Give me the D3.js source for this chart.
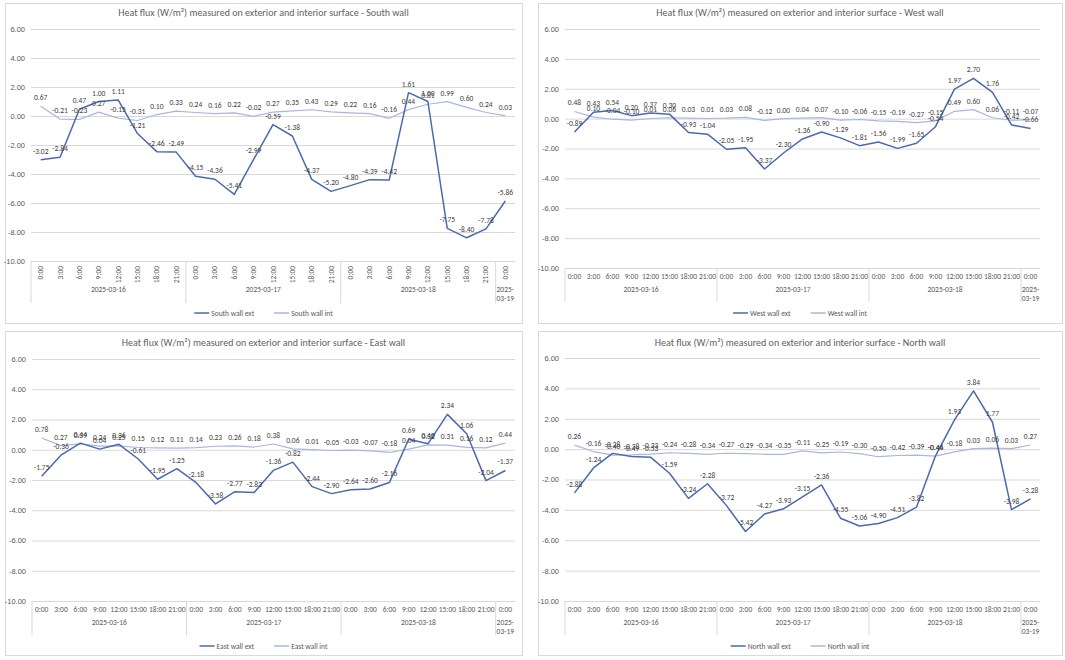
<!DOCTYPE html>
<html>
<head>
<meta charset="utf-8">
<script src="https://cdn.jsdelivr.net/npm/d3@7"></script>
<style>
  body { margin: 0; background: #fff; }
  svg { font-family: Calibri, Carlito, 'Liberation Sans', sans-serif; }
</style>
</head>
<body>
<svg id="chart" width="1065" height="660"></svg>
<script>
var hours = ['0:00', '3:00', '6:00', '9:00', '12:00', '15:00', '18:00', '21:00'];
var dates = ['2025-03-16', '2025-03-17', '2025-03-18', '2025-03-19'];
var yTicks = [-10, -8, -6, -4, -2, 0, 2, 4, 6];

var southExt = [-3.02, -2.84, 0.47, 1.00, 1.11, -1.21, -2.46, -2.49, -4.15, -4.36, -5.41, -2.99, -0.59, -1.38, -4.37, -5.20, -4.80, -4.39, -4.42, 1.61, 1.00, -7.75, -8.40, -7.78, -5.86];
var southInt = [0.67, -0.21, -0.23, 0.27, -0.15, -0.31, 0.10, 0.33, 0.24, 0.16, 0.22, -0.02, 0.27, 0.35, 0.43, 0.29, 0.22, 0.16, -0.16, 0.44, 0.81, 0.99, 0.60, 0.24, 0.03];
var westExt = [-0.89, 0.43, 0.54, 0.20, 0.37, 0.30, -0.93, -1.04, -2.05, -1.95, -3.37, -2.30, -1.36, -0.90, -1.29, -1.81, -1.56, -1.99, -1.65, -0.54, 1.97, 2.70, 1.76, -0.42, -0.66];
var westInt = [0.48, 0.10, -0.04, -0.10, 0.01, 0.06, 0.03, 0.01, 0.03, 0.08, -0.12, 0.00, 0.04, 0.07, -0.10, -0.06, -0.15, -0.19, -0.27, -0.15, 0.49, 0.60, 0.06, -0.11, -0.07];
var eastExt = [-1.75, -0.36, 0.44, 0.04, 0.36, -0.61, -1.95, -1.25, -2.18, -3.58, -2.77, -2.83, -1.36, -0.82, -2.44, -2.90, -2.64, -2.60, -2.16, 0.69, 0.40, 2.34, 1.06, -2.04, -1.37];
var eastInt = [0.78, 0.27, 0.39, 0.24, 0.25, 0.15, 0.12, 0.11, 0.14, 0.23, 0.26, 0.18, 0.38, 0.06, 0.01, -0.05, -0.03, -0.07, -0.18, 0.04, 0.32, 0.31, 0.16, 0.12, 0.44];
var northExt = [-2.88, -1.24, -0.28, -0.49, -0.53, -1.59, -3.24, -2.28, -3.72, -5.42, -4.27, -3.93, -3.15, -2.36, -4.55, -5.06, -4.90, -4.51, -3.82, -0.44, 1.93, 3.84, 1.77, -3.98, -3.28];
var northInt = [0.26, -0.16, -0.40, -0.38, -0.33, -0.24, -0.28, -0.34, -0.27, -0.29, -0.34, -0.35, -0.11, -0.25, -0.19, -0.30, -0.50, -0.42, -0.39, -0.46, -0.18, 0.03, 0.06, 0.03, 0.27];

var extColor = '#4a6aad';
var intColor = '#a9b7df';
var textColor = '#595959';

// one category per reading: 3 full days + midnight of the 4th
var cats = [];
dates.forEach(function(d, di) {
  var hs = di < 3 ? hours : hours.slice(0, 1);
  hs.forEach(function(h) { cats.push({ date: d, hour: h, key: d + ' ' + h }); });
});

var panels = [
  { name: 'South', ext: southExt, int: southInt, box: [5, 3, 517, 320], left: 31, right: 515, top: 29, bottom: 261,
    rotated: true, titleY: 14, xlabY: 266, dateY: 292, sepY: 303, legendY: 313 },
  { name: 'West', ext: westExt, int: westInt, box: [538, 3, 524, 320], left: 565, right: 1040, top: 29, bottom: 268,
    rotated: false, titleY: 14, xlabY: 279, dateY: 292, sepY: 302, legendY: 313 },
  { name: 'East', ext: eastExt, int: eastInt, box: [5, 331, 517, 324], left: 32, right: 515, top: 359, bottom: 601,
    rotated: false, titleY: 344, xlabY: 612, dateY: 625, sepY: 635, legendY: 646 },
  { name: 'North', ext: northExt, int: northInt, box: [538, 331, 524, 324], left: 565, right: 1040, top: 358, bottom: 601,
    rotated: false, titleY: 344, xlabY: 612, dateY: 625, sepY: 635, legendY: 646 }
];

var svg = d3.select('#chart');
var fmt = function(v) { return v.toFixed(2); };

panels.forEach(function(p) {
  var g = svg.append('g');
  var b = p.box;

  g.append('rect')
    .attr('x', b[0] + 0.5).attr('y', b[1] + 0.5)
    .attr('width', b[2]).attr('height', b[3])
    .attr('fill', '#fff').attr('stroke', '#d9d9d9');

  var x = d3.scaleBand().domain(cats.map(function(c) { return c.key; })).range([p.left, p.right]);
  var y = d3.scaleLinear().domain([-10, 6]).range([p.bottom, p.top]);
  var cx = function(i) { return x(cats[i].key) + x.bandwidth() / 2; };

  g.append('text')
    .attr('x', b[0] + b[2] / 2).attr('y', p.titleY)
    .attr('text-anchor', 'middle').attr('dominant-baseline', 'middle')
    .attr('font-size', 10).attr('fill', '#5f5f5f')
    .text('Heat flux (W/m\u00b2) measured on exterior and interior surface - ' + p.name + ' wall');

  // y axis: gridlines + labels
  var yAxis = d3.axisLeft(y).tickValues(yTicks).tickSize(-(p.right - p.left)).tickFormat(fmt);
  var ya = g.append('g').attr('transform', 'translate(' + p.left + ',0)').call(yAxis);
  ya.select('.domain').remove();
  ya.selectAll('.tick line').attr('stroke', '#d9d9d9');
  ya.selectAll('.tick text').attr('x', -6).attr('fill', textColor).attr('font-size', 7.5).style('font-family', 'inherit');

  // x axis, hour level
  g.selectAll('.hr').data(cats).enter().append('text')
    .attr('fill', textColor).attr('font-size', 7.5)
    .attr('transform', function(c, i) {
      return p.rotated ? 'translate(' + (cx(i) + 2.5) + ',' + p.xlabY + ') rotate(-90)' : 'translate(' + cx(i) + ',' + p.xlabY + ')';
    })
    .attr('text-anchor', p.rotated ? 'end' : 'middle')
    .text(function(c) { return c.hour; });

  // x axis, date level with separators
  var groups = dates.map(function(d) {
    var idx = cats.map(function(c, i) { return c.date === d ? i : -1; }).filter(function(i) { return i >= 0; });
    return { date: d, x0: x(cats[idx[0]].key), x1: x(cats[idx[idx.length - 1]].key) + x.bandwidth() };
  });
  g.selectAll('.sep').data(groups).enter().append('line')
    .attr('x1', function(d) { return d.x0; }).attr('x2', function(d) { return d.x0; })
    .attr('y1', p.bottom).attr('y2', p.sepY)
    .attr('stroke', '#d9d9d9');
  g.append('line')
    .attr('x1', p.left).attr('x2', p.right).attr('y1', p.bottom + 0.5).attr('y2', p.bottom + 0.5)
    .attr('stroke', '#d9d9d9');
  groups.forEach(function(d, i) {
    var t = g.append('text')
      .attr('x', (d.x0 + d.x1) / 2).attr('y', p.dateY)
      .attr('text-anchor', 'middle').attr('fill', textColor).attr('font-size', 7.5);
    if (i === groups.length - 1) {
      t.append('tspan').attr('x', (d.x0 + d.x1) / 2).text(d.date.slice(0, 5));
      t.append('tspan').attr('x', (d.x0 + d.x1) / 2).attr('dy', 8.5).text(d.date.slice(5));
    } else {
      t.text(d.date);
    }
  });

  // series
  var line = d3.line().x(function(v, i) { return cx(i); }).y(function(v) { return y(v); });
  [{ vals: p.int, color: intColor, w: 1.2 }, { vals: p.ext, color: extColor, w: 1.5 }].forEach(function(s) {
    g.append('path').datum(s.vals)
      .attr('d', line).attr('fill', 'none')
      .attr('stroke', s.color).attr('stroke-width', s.w).attr('stroke-linejoin', 'round');
  });
  [p.ext, p.int].forEach(function(vals) {
    g.selectAll(null).data(vals).enter().append('text')
      .attr('x', function(v, i) { return cx(i); })
      .attr('y', function(v) { return y(v) - 6; })
      .attr('text-anchor', 'middle')
      .attr('fill', '#404040').attr('font-size', 7.5)
      .text(fmt);
  });

  // legend
  var lg = g.append('g');
  var items = [{ label: p.name + ' wall ext', color: extColor }, { label: p.name + ' wall int', color: intColor }];
  var xo = 0;
  items.forEach(function(it, i) {
    lg.append('line').attr('x1', xo).attr('x2', xo + 15).attr('y1', 0).attr('y2', 0)
      .attr('stroke', it.color).attr('stroke-width', 1.5);
    var t = lg.append('text').attr('x', xo + 17).attr('y', 2.5)
      .attr('fill', textColor).attr('font-size', 7.5).text(it.label);
    xo += 17 + t.node().getComputedTextLength() + 20;
  });
  var lw = xo - 20;
  lg.attr('transform', 'translate(' + (b[0] + b[2] / 2 - lw / 2) + ',' + p.legendY + ')');
});
</script>
</body>
</html>
